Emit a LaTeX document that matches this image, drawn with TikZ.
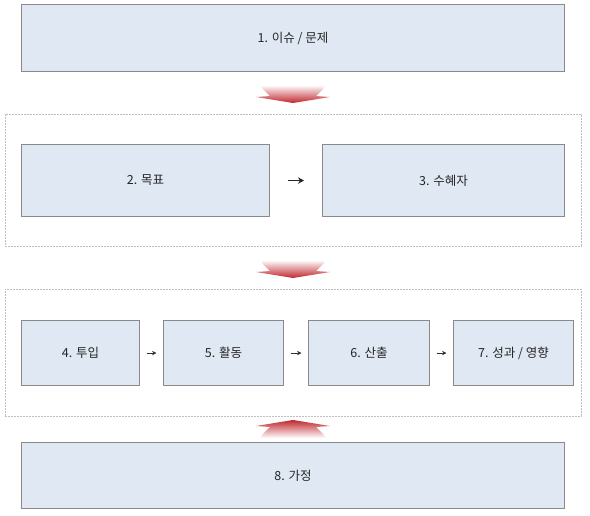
\documentclass[tikz,border=0pt]{standalone}
\usepackage{fontspec}
\setmainfont{Noto Sans CJK KR}
\usetikzlibrary{arrows.meta}
\definecolor{boxfill}{HTML}{DFE8F3}
\definecolor{boxline}{HTML}{8A8A8A}
\definecolor{frameline}{HTML}{BEBEBE}
\definecolor{chev}{HTML}{C0272D}
\begin{document}
\begin{tikzpicture}[x=1pt,y=-1pt,
  box/.style={draw=boxline, line width=1.1pt, fill=boxfill, inner sep=0pt,
    anchor=north west, font=\fontsize{12.5}{15}\selectfont, text=black!85},
  frame/.style={draw=frameline, line width=0.7pt, dash pattern=on 2pt off 1pt,
    inner sep=0pt, anchor=north west},
  arr/.style={draw=black!80, line width=0.8pt, -{Stealth[length=4.5pt,width=4.5pt]}},
  bigarr/.style={draw=black!85, line width=1.5pt, -{Stealth[length=6pt,width=6.5pt]}},
  downchev/.pic={\shade[top color=white, bottom color=chev]
    (-33,0) -- (33,0) .. controls (29,6) and (25,9) .. (23,11) -- (37,12) -- (0,18)
    -- (-37,12) -- (-23,11) .. controls (-25,9) and (-29,6) .. (-33,0) -- cycle;},
  upchev/.pic={\shade[bottom color=white, top color=chev]
    (-33,0) -- (33,0) .. controls (29,-6) and (25,-9) .. (23,-11) -- (37,-12) -- (0,-18)
    -- (-37,-12) -- (-23,-11) .. controls (-25,-9) and (-29,-6) .. (-33,0) -- cycle;}
]
\useasboundingbox (0,0) rectangle (590,515);

% dashed group frames
\node[frame, minimum width=576pt, minimum height=132pt] (g1) at (5,114) {};
\node[frame, minimum width=576pt, minimum height=127pt] (g2) at (5,289) {};

% boxes
\node[box, minimum width=543pt, minimum height=67pt] (b1) at (21,4) {1. 이슈 / 문제};
\node[box, minimum width=248pt, minimum height=72pt] (b2) at (21,144) {2. 목표};
\node[box, minimum width=242pt, minimum height=72pt] (b3) at (322,144) {3. 수혜자};
\node[box, minimum width=118pt, minimum height=65pt] (b4) at (21,320) {4. 투입};
\node[box, minimum width=120pt, minimum height=65pt] (b5) at (163,320) {5. 활동};
\node[box, minimum width=121pt, minimum height=65pt] (b6) at (308,320) {6. 산출};
\node[box, minimum width=120pt, minimum height=65pt] (b7) at (453,320) {7. 성과 / 영향};
\node[box, minimum width=543pt, minimum height=66pt] (b8) at (21,442) {8. 가정};

% arrows
\draw[bigarr, shorten <=18pt, shorten >=18pt] (b2) -- (b3);
\draw[arr, shorten <=6.5pt, shorten >=6.5pt] (b4) -- (b5);
\draw[arr, shorten <=6.5pt, shorten >=6.5pt] (b5) -- (b6);
\draw[arr, shorten <=6.5pt, shorten >=6.5pt] (b6) -- (b7);

% chevrons
\pic at (293,85) {downchev};
\pic at (293,260) {downchev};
\pic at (293,438) {upchev};
\end{tikzpicture}
\end{document}
